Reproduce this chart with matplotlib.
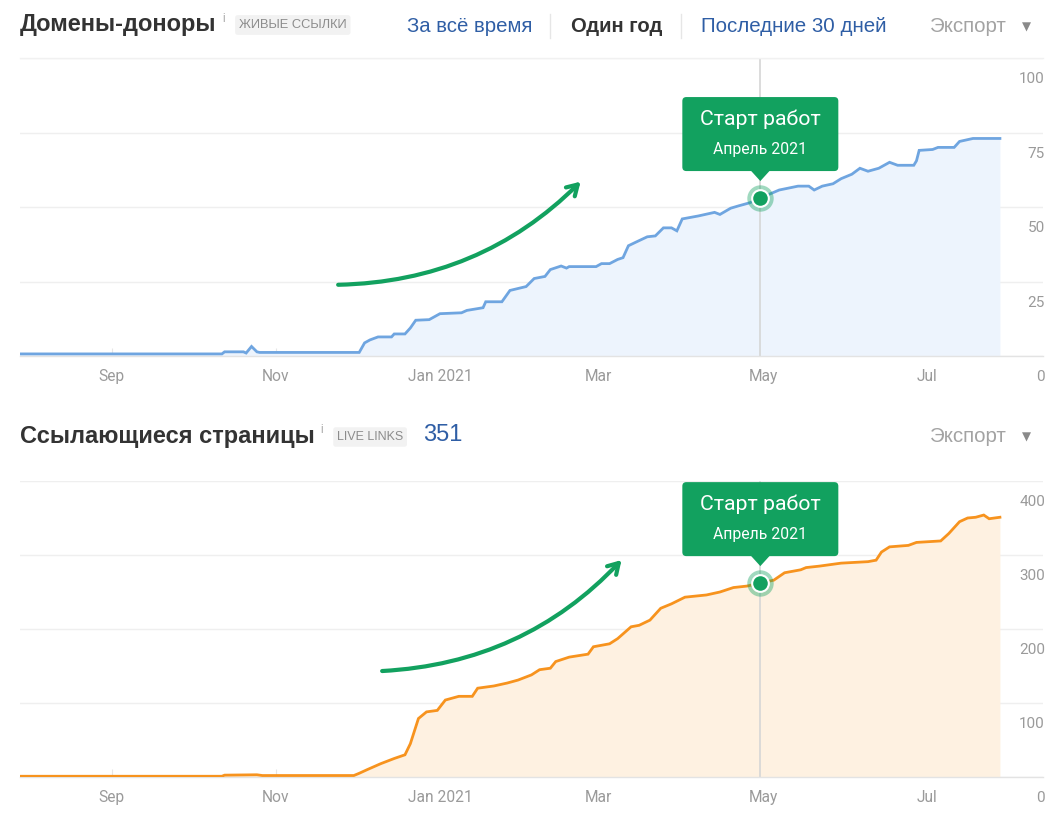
import matplotlib
matplotlib.use('Agg')
import matplotlib.pyplot as plt
import numpy as np
import matplotlib.dates as mdates
from matplotlib.patches import FancyBboxPatch, Polygon
from matplotlib.lines import Line2D
from matplotlib.transforms import IdentityTransform

W, H = 1055, 813

# ---------------- data ----------------
dom_dates = ['2020-07-29', '2020-10-12', '2020-10-13', '2020-10-20', '2020-10-21', '2020-10-23',
             '2020-10-25', '2020-10-26', '2020-12-02', '2020-12-04', '2020-12-06', '2020-12-09',
             '2020-12-14', '2020-12-15', '2020-12-19', '2020-12-21', '2020-12-23', '2020-12-28',
             '2021-01-01', '2021-01-09', '2021-01-11', '2021-01-17', '2021-01-18', '2021-01-24',
             '2021-01-27', '2021-02-02', '2021-02-05', '2021-02-09', '2021-02-11', '2021-02-15',
             '2021-02-17', '2021-02-18', '2021-02-28', '2021-03-02', '2021-03-05', '2021-03-08',
             '2021-03-10', '2021-03-12', '2021-03-15', '2021-03-19', '2021-03-22', '2021-03-25',
             '2021-03-28', '2021-03-30', '2021-04-01', '2021-04-07', '2021-04-13', '2021-04-15',
             '2021-04-19', '2021-04-22', '2021-04-26', '2021-04-30', '2021-05-07', '2021-05-14',
             '2021-05-18', '2021-05-20', '2021-05-23', '2021-05-27', '2021-05-30', '2021-06-03',
             '2021-06-06', '2021-06-09', '2021-06-13', '2021-06-17', '2021-06-20', '2021-06-26',
             '2021-06-27', '2021-06-28', '2021-07-03', '2021-07-05', '2021-07-11', '2021-07-13',
             '2021-07-18', '2021-07-28']
dom_values = [0.7, 0.7, 1.4, 1.4, 1.0, 3.2,
              1.4, 1.2, 1.2, 4.4, 5.4, 6.4,
              6.4, 7.4, 7.4, 9.4, 12.0, 12.2,
              14.2, 14.5, 15.3, 16.2, 18.2, 18.2,
              22.0, 23.3, 26.0, 26.7, 29.0, 30.2,
              29.5, 30.0, 30.0, 31.0, 31.0, 32.4,
              33.0, 37.0, 38.3, 40.0, 40.3, 43.0,
              43.0, 42.0, 46.0, 47.0, 48.2, 47.5,
              49.6, 50.4, 51.4, 53.0, 55.7, 57.0,
              57.0, 55.7, 57.0, 57.8, 59.5, 61.0,
              63.0, 62.0, 63.0, 65.0, 64.0, 64.0,
              65.5, 69.0, 69.3, 70.0, 70.0, 72.0,
              73.0, 73.0]

pages_dates = ['2020-07-29', '2020-10-12', '2020-10-13', '2020-10-25', '2020-10-27', '2020-11-30',
               '2020-12-02', '2020-12-05', '2020-12-10', '2020-12-15', '2020-12-19', '2020-12-21',
               '2020-12-24', '2020-12-27', '2020-12-31', '2021-01-03', '2021-01-08', '2021-01-13',
               '2021-01-15', '2021-01-21', '2021-01-26', '2021-01-30', '2021-02-04', '2021-02-07',
               '2021-02-11', '2021-02-13', '2021-02-18', '2021-02-25', '2021-02-27', '2021-03-05',
               '2021-03-08', '2021-03-13', '2021-03-16', '2021-03-20', '2021-03-24', '2021-03-28',
               '2021-04-02', '2021-04-10', '2021-04-15', '2021-04-20', '2021-04-25', '2021-04-30',
               '2021-05-05', '2021-05-09', '2021-05-15', '2021-05-17', '2021-05-22', '2021-05-30',
               '2021-06-09', '2021-06-12', '2021-06-14', '2021-06-17', '2021-06-24', '2021-06-27',
               '2021-07-06', '2021-07-09', '2021-07-13', '2021-07-16', '2021-07-19', '2021-07-22',
               '2021-07-24', '2021-07-28']
pages_values = [1, 1, 2.5, 3, 2, 2,
                5, 10, 18, 25, 30, 45,
                79, 88, 90, 104, 109, 109,
                120, 123, 127, 131, 138, 145,
                147, 156, 162, 166, 176, 180,
                187, 203, 205, 212, 228, 234,
                243, 246, 250, 256, 258, 262,
                266, 276, 280, 283, 285, 289,
                291, 293, 304, 311, 313, 317,
                319, 329, 345, 350, 351, 354,
                349, 351]

month_ticks = ['2020-09-01', '2020-11-01', '2021-01-01', '2021-03-01', '2021-05-01', '2021-07-01']
month_labels = ['Sep', 'Nov', 'Jan 2021', 'Mar', 'May', 'Jul']
dom_yticks = [0, 25, 50, 75, 100]
pages_yticks = [0, 100, 200, 300, 400]
x_range = ['2020-07-29', '2021-08-13']
start_date = '2021-04-30'
tip_title = 'Старт работ'
tip_sub = 'Апрель 2021'

# ---------------- style ----------------
GREEN = '#12a15f'
GRID = '#efefef'
TICKC = '#9a9a9a'
plt.rcParams['font.family'] = ['Liberation Sans', 'DejaVu Sans']

fig = plt.figure(figsize=(W / 100, H / 100), dpi=100)
fig.patch.set_facecolor('white')


def px_axes(x0, x1, ytop, ybot):
    return fig.add_axes([x0 / W, 1 - ybot / H, (x1 - x0) / W, (ybot - ytop) / H])


def fpos(x, y):
    return x / W, 1 - y / H


def to_num(ds):
    return mdates.date2num(np.array(ds, dtype='datetime64[D]'))


def draw_chart(ax, dates, values, yticks, line_c, fill_c, arrow_from, arrow_to):
    xd = to_num(dates)
    ax.fill_between(xd, values, 0, color=fill_c, lw=0, zorder=1)
    ax.plot(xd, values, color=line_c, lw=2.0, zorder=3, solid_joinstyle='miter')
    ax.set_xlim(to_num(x_range))
    ax.set_ylim(yticks[0], yticks[-1])
    for s in ['left', 'right', 'top']:
        ax.spines[s].set_visible(False)
    ax.spines['bottom'].set_color('#e3e3e3')
    ax.spines['bottom'].set_linewidth(1)
    ax.set_yticks(yticks)
    ax.set_yticklabels([])
    ax.tick_params(axis='y', length=0)
    ax.grid(axis='y', color=GRID, lw=1, zorder=0)
    ax.set_axisbelow(True)
    ax.set_xticks(to_num(month_ticks))
    ax.set_xticklabels(month_labels, family='Roboto', fontsize=11.2, color=TICKC)
    ax.tick_params(axis='x', direction='in', length=6, color='#e6e6e6', pad=9)
    for v in yticks:
        ax.annotate(str(v), xy=(1, v), xycoords=('axes fraction', 'data'),
                    xytext=(2, -21), textcoords='offset pixels', ha='right', va='center',
                    family='Roboto', fontsize=11, color=TICKC, annotation_clip=False)
    # vertical start line
    sx = to_num([start_date])[0]
    ax.axvline(sx, color='#d6d6d6', lw=1.2, zorder=2)
    # arrow
    ax.annotate('', xy=arrow_to, xycoords='axes fraction', xytext=arrow_from,
                textcoords='axes fraction',
                arrowprops=dict(arrowstyle='->,head_length=0.75,head_width=0.45', color=GREEN,
                                lw=3, connectionstyle='arc3,rad=0.2', shrinkA=0, shrinkB=0),
                zorder=6)
    # marker + tooltip
    sv = np.interp(sx, xd, values)
    ax.plot([sx], [sv], 'o', ms=19, color=GREEN, alpha=0.4, mec='none', zorder=7)
    ax.plot([sx], [sv], 'o', ms=12, color=GREEN, mec='white', mew=1.5, zorder=8)
    mx, my = ax.transData.transform((sx, sv))
    bw, b0, b1 = 156, 27, 101
    box = FancyBboxPatch((mx - bw / 2, my + b0), bw, b1 - b0,
                         boxstyle='round,pad=0,rounding_size=4', fc=GREEN, ec='none',
                         transform=IdentityTransform(), zorder=9)
    fig.add_artist(box)
    tri = Polygon([[mx - 10, my + b0 + 1], [mx + 10, my + b0 + 1], [mx, my + 17]],
                  closed=True, fc=GREEN, ec='none', transform=IdentityTransform(), zorder=9)
    fig.add_artist(tri)
    fig.text(mx / W, (my + 79) / H, tip_title, color='white', family='Roboto', fontsize=15.3,
             ha='center', va='center', zorder=10)
    fig.text(mx / W, (my + 49) / H, tip_sub, color='white', family='Roboto', fontsize=11.3,
             ha='center', va='center', zorder=10)


ax1 = px_axes(20, 1043, 58, 356)
draw_chart(ax1, dom_dates, dom_values, dom_yticks, '#6fa5e0', '#edf4fd',
           (0.311, 0.239), (0.548, 0.585))
ax2 = px_axes(20, 1043, 481, 777)
draw_chart(ax2, pages_dates, pages_values, pages_yticks, '#f7931e', '#fef1e1',
           (0.354, 0.358), (0.588, 0.733))

# top border of upper chart area
fig.add_artist(Line2D([20 / W, 1043 / W], [1 - 58 / H, 1 - 58 / H], color='#f1f1f1', lw=1))

# ---------------- headers ----------------
DARK = '#333333'
BLUE = '#2f5ea5'
fig.text(*fpos(20, 25), 'Домены-доноры', fontsize=17, fontweight='bold', color=DARK,
         va='center', ha='left')
fig.text(*fpos(222, 19), 'i', fontsize=8.5, color='#aaaaaa', va='center', ha='left')
fig.text(*fpos(239, 25), 'ЖИВЫЕ ССЫЛКИ', fontsize=9.3, color='#8c8c8c', va='center', ha='left',
         bbox=dict(boxstyle='round,pad=0.3,rounding_size=0.2', fc='#f2f2f2', ec='none'))
fig.text(*fpos(407, 26), 'За всё время', fontsize=14.7, color=BLUE, va='center', ha='left')
fig.text(*fpos(571, 26), 'Один год', fontsize=14.6, fontweight='bold', color=DARK, va='center',
         ha='left')
fig.text(*fpos(701, 26), 'Последние 30 дней', fontsize=14.8, color=BLUE, va='center', ha='left')
for sx_ in [550, 681]:
    fig.add_artist(Line2D([sx_ / W, sx_ / W], [1 - 14 / H, 1 - 38 / H], color='#e6e6e6', lw=1))
fig.text(*fpos(930, 26), 'Экспорт', fontsize=14.8, color='#a3a3a3', va='center', ha='left')
fig.text(*fpos(1026, 27), '▼', fontsize=8.5, color='#8a8a8a', va='center', ha='center',
         family=['DejaVu Sans'])

fig.text(*fpos(20, 436), 'Ссылающиеся страницы', fontsize=17, fontweight='bold', color=DARK,
         va='center', ha='left')
fig.text(*fpos(320, 430), 'i', fontsize=8.5, color='#aaaaaa', va='center', ha='left')
fig.text(*fpos(337, 437), 'LIVE LINKS', fontsize=9, color='#8c8c8c', va='center', ha='left',
         bbox=dict(boxstyle='round,pad=0.3,rounding_size=0.2', fc='#f2f2f2', ec='none'))
fig.text(*fpos(423, 435), '351', fontsize=17, color=BLUE, va='center', ha='left')
fig.text(*fpos(930, 436), 'Экспорт', fontsize=14.8, color='#a3a3a3', va='center', ha='left')
fig.text(*fpos(1026, 437), '▼', fontsize=8.5, color='#8a8a8a', va='center', ha='center',
         family=['DejaVu Sans'])

fig.savefig('out.png', dpi=100, facecolor='white')
